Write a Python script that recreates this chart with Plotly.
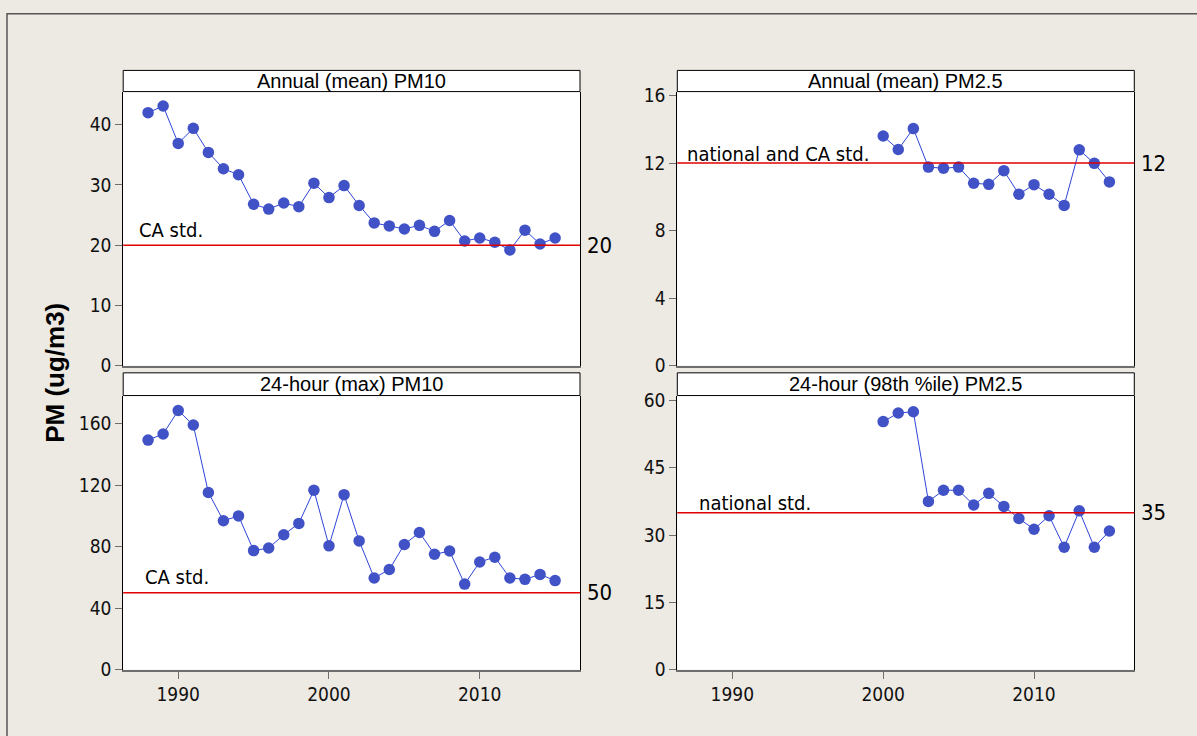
import plotly.graph_objects as go

# ---------------- data ----------------
years_pm10 = [1988, 1989, 1990, 1991, 1992, 1993, 1994, 1995, 1996, 1997,
              1998, 1999, 2000, 2001, 2002, 2003, 2004, 2005, 2006, 2007,
              2008, 2009, 2010, 2011, 2012, 2013, 2014, 2015]
pm10_annual = [42.0, 43.1, 36.9, 39.4, 35.4, 32.7, 31.7, 26.8, 26.0, 27.0,
               26.4, 30.3, 27.9, 29.9, 26.6, 23.7, 23.2, 22.7, 23.3, 22.3,
               24.1, 20.7, 21.2, 20.5, 19.2, 22.5, 20.2, 21.2]
pm10_24h = [149.4, 153.4, 168.7, 159.2, 115.3, 96.9, 100.1, 77.5, 79.2, 87.8,
            95.2, 116.8, 80.6, 113.9, 83.8, 59.7, 65.2, 81.5, 89.3, 75.1,
            77.2, 55.7, 70.1, 73.2, 59.7, 58.8, 62.0, 58.0]
years_pm25 = [2000, 2001, 2002, 2003, 2004, 2005, 2006, 2007,
              2008, 2009, 2010, 2011, 2012, 2013, 2014, 2015]
pm25_annual = [13.6, 12.8, 14.04, 11.76, 11.69, 11.76, 10.8, 10.74,
               11.55, 10.15, 10.72, 10.15, 9.49, 12.78, 11.98, 10.88]
pm25_24h = [55.3, 57.2, 57.5, 37.5, 40.0, 40.0, 36.7, 39.3,
            36.4, 33.7, 31.3, 34.3, 27.3, 35.4, 27.3, 30.9]

panel_titles = ["Annual (mean) PM10", "Annual (mean) PM2.5",
                "24-hour (max) PM10", "24-hour (98th %ile) PM2.5"]
std_values = [20, 12, 50, 35]
std_labels = ["CA std.", "national and CA std.", "CA std.", "national std."]
y_ticks = [[0, 10, 20, 30, 40], [0, 4, 8, 12, 16],
           [0, 40, 80, 120, 160], [0, 15, 30, 45, 60]]
x_ticks = [1990, 2000, 2010]
y_title = "PM (ug/m3)"

# ---------------- layout geometry (pixels) ----------------
W, H = 1197, 736
FONT = "Liberation Sans, Arial, sans-serif"
TFONT = "DejaVu Sans Condensed, Liberation Sans, Arial, sans-serif"
BG = "#EDE9E3"
MARK = "#4052C6"
LINE = "#2E44D8"
RED = "#E00000"

col_px = [(123.2, 580.0), (677.3, 1134.3)]
row_px = [(86.7, 367.7), (398.3, 679.3)]      # plot top, bottom
strip_px = [(65.0, 86.7), (375.0, 398.3)]
y_ranges = [[0, 45.5], [0, 16.23], [0, 178.4], [0, 61.1]]
x_range = [1986.35, 2016.65]
label_dx = [0.030, 0.016, 0.043, 0.043]
label_dy = [15, 9.5, 15.5, 9.3]

def px_x(v):
    return v / W

def px_y(v):
    return 1 - v / H

fig = go.Figure()
series = [(years_pm10, pm10_annual), (years_pm25, pm25_annual),
          (years_pm10, pm10_24h), (years_pm25, pm25_24h)]

shapes = []
annotations = []
layout = {}
for i in range(4):
    r, c = divmod(i, 2)
    n = i + 1
    xa = "x" if n == 1 else f"x{n}"
    ya = "y" if n == 1 else f"y{n}"
    xs, ys = series[i]
    fig.add_trace(go.Scatter(
        x=xs, y=ys, xaxis=xa, yaxis=ya, mode="lines+markers",
        line=dict(color=LINE, width=1),
        marker=dict(color=MARK, size=11.5, line=dict(width=0)),
        showlegend=False, hoverinfo="x+y"))
    x0, x1 = col_px[c]
    yt, yb = row_px[r]
    bottom = (r == 1)
    layout["xaxis" if n == 1 else f"xaxis{n}"] = dict(
        domain=[px_x(x0), px_x(x1)], range=x_range, anchor=ya,
        showgrid=False, zeroline=False,
        showline=True, linecolor="#6E6E6E", linewidth=2, mirror=False,
        ticks="outside" if bottom else "", ticklen=7, tickwidth=1,
        tickcolor="#6E6E6E",
        tickvals=x_ticks if bottom else [], showticklabels=bottom,
        tickfont=dict(family=TFONT, size=19, color="#111111"))
    layout["yaxis" if n == 1 else f"yaxis{n}"] = dict(
        domain=[px_y(yb), px_y(yt)], range=y_ranges[i], anchor=xa,
        showgrid=False, zeroline=False,
        showline=True, linecolor="#000000", linewidth=1, mirror=True,
        ticks="outside", ticklen=7, tickwidth=1, tickcolor="#6E6E6E",
        tickvals=y_ticks[i],
        tickfont=dict(family=TFONT, size=19, color="#111111"))
    shapes.append(dict(type="line", xref=f"{xa} domain", yref=ya,
                       x0=0, x1=1, y0=std_values[i], y1=std_values[i],
                       line=dict(color=RED, width=1.5), layer="above"))
    s0, s1 = strip_px[r]
    shapes.append(dict(type="rect", xref="paper", yref="paper",
                       x0=px_x(x0), x1=px_x(x1), y0=px_y(s1), y1=px_y(s0),
                       fillcolor="white", line=dict(color="#000000", width=1)))
    annotations.append(dict(xref="paper", yref="paper",
                            x=(px_x(x0) + px_x(x1)) / 2,
                            y=(px_y(s0) + px_y(s1)) / 2,
                            text=panel_titles[i], showarrow=False,
                            xanchor="center", yanchor="middle",
                            font=dict(family=FONT, size=20, color="#000000")))
    annotations.append(dict(xref=f"{xa} domain", yref=ya,
                            x=label_dx[i], y=std_values[i], yshift=label_dy[i],
                            text=std_labels[i], showarrow=False,
                            xanchor="left", yanchor="middle",
                            font=dict(family=TFONT, size=20, color="#000000")))
    annotations.append(dict(xref=f"{xa} domain", yref=ya,
                            x=1, y=std_values[i], xshift=5,
                            text=str(std_values[i]), showarrow=False,
                            xanchor="left", yanchor="middle",
                            font=dict(family=TFONT, size=22, color="#000000")))

shapes.append(dict(type="rect", xref="paper", yref="paper",
                   x0=px_x(7), x1=px_x(1210), y0=px_y(750), y1=px_y(7),
                   fillcolor="rgba(0,0,0,0)", line=dict(color="#555555", width=1.5),
                   layer="below"))

annotations.append(dict(xref="paper", yref="paper", x=px_x(55), y=px_y(375),
                        text=f"<b>{y_title}</b>", showarrow=False, textangle=-90,
                        xanchor="center", yanchor="middle",
                        font=dict(family=FONT, size=26, color="#000000")))

fig.update_layout(
    autosize=True, margin=dict(l=0, r=0, t=0, b=0, pad=0),
    paper_bgcolor=BG, plot_bgcolor="white",
    shapes=shapes, annotations=annotations, **layout)

post = ("document.documentElement.style.margin='0';"
        "document.documentElement.style.overflow='hidden';"
        "document.body.style.margin='0';"
        "document.body.style.overflow='hidden';"
        "Plotly.Plots.resize(document.getElementById('{plot_id}'));")

fig.write_html("out.html", config={"displayModeBar": False, "responsive": True},
               default_width="100vw", default_height="100vh", post_script=post)
